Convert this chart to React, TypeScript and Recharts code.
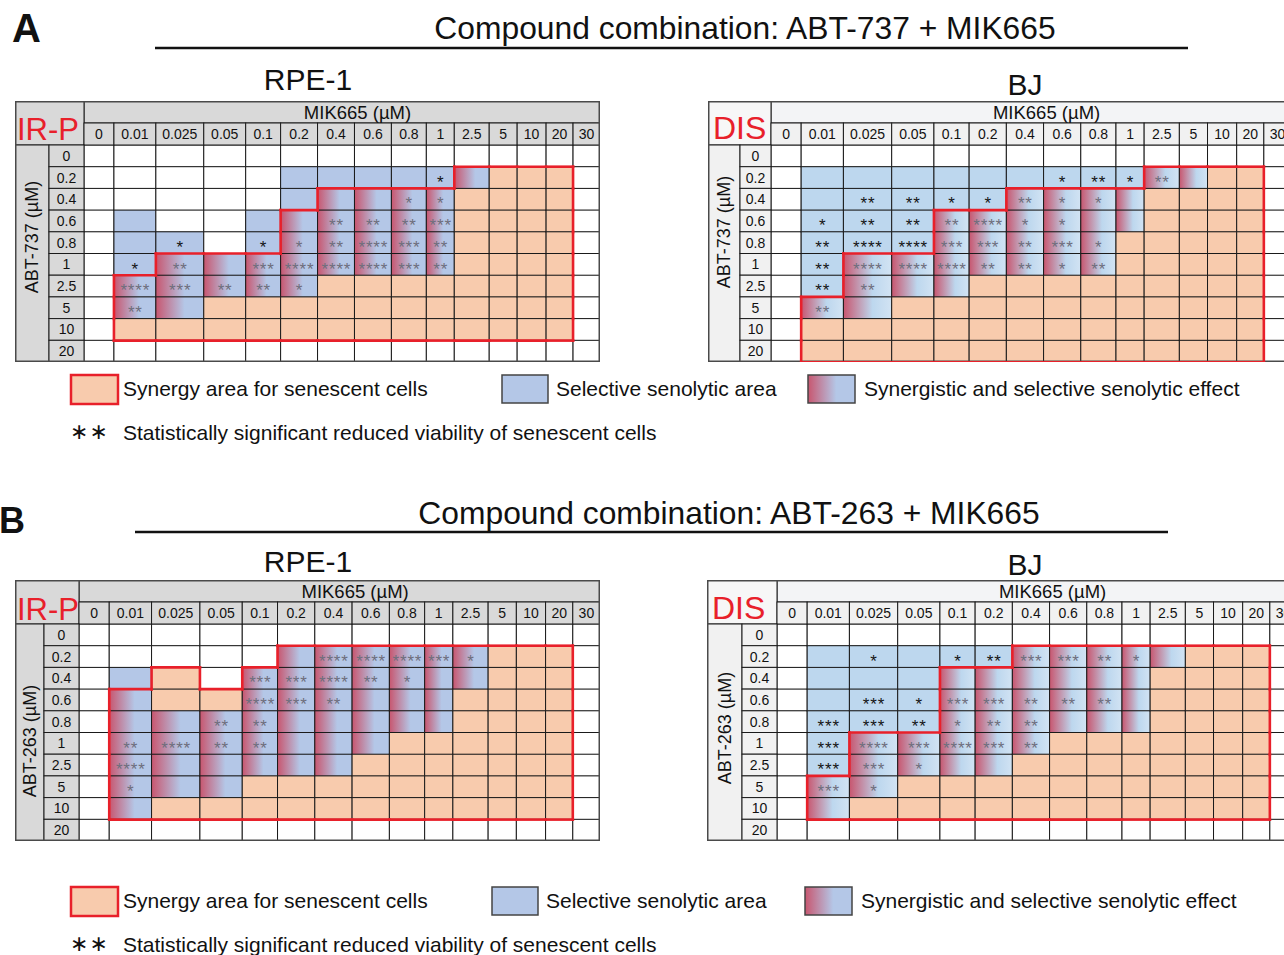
import * as React from 'react'
import { Bar, BarChart, XAxis, YAxis } from 'recharts'

const FONT = '"Liberation Sans", Arial, Helvetica, sans-serif'

// DOSES

const mikDoses = ['0', '0.01', '0.025', '0.05', '0.1', '0.2', '0.4', '0.6', '0.8', '1', '2.5', '5', '10', '20', '30']
const abtDoses = ['0', '0.2', '0.4', '0.6', '0.8', '1', '2.5', '5', '10', '20']

// CELL CLASSES (one string per ABT row, one letter per MIK665 column)
// W = nothing, B = selective senolytic, O = synergy, G = synergy + selective senolytic

const rpeAbt737Cells = [
    'WWWWWWWWWWWWWWW',
    'WWWWWBBBBBGOOOW',
    'WWWWWBGGGGOOOOW',
    'WBWWBGGGGGOOOOW',
    'WBBWBGGGGGOOOOW',
    'WBGGGGGGGGOOOOW',
    'WGGGGGOOOOOOOOW',
    'WGGOOOOOOOOOOOW',
    'WOOOOOOOOOOOOOW',
    'WWWWWWWWWWWWWWW',
]
const bjAbt737Cells = [
    'WWWWWWWWWWWWWWW',
    'WBBBBBBBBBGGOOW',
    'WBBBBBGGGGOOOOW',
    'WBBBGGGGGGOOOOW',
    'WBBBGGGGGOOOOOW',
    'WBGGGGGGGOOOOOW',
    'WBGGGOOOOOOOOOW',
    'WGGOOOOOOOOOOOW',
    'WOOOOOOOOOOOOOW',
    'WOOOOOOOOOOOOOW',
]
const rpeAbt263Cells = [
    'WWWWWWWWWWWWWWW',
    'WWWWWGGGGGGOOOW',
    'WBOWGGGGGGGOOOW',
    'WGOOGGGGGGOOOOW',
    'WGGGGGGGGGOOOOW',
    'WGGGGGGGOOOOOOW',
    'WGGGGGGOOOOOOOW',
    'WGGGOOOOOOOOOOW',
    'WGOOOOOOOOOOOOW',
    'WWWWWWWWWWWWWWW',
]
const bjAbt263Cells = [
    'WWWWWWWWWWWWWWW',
    'WBBBBBGGGGGOOOW',
    'WBBBGGGGGGOOOOW',
    'WBBBGGGGGGOOOOW',
    'WBBBGGGGGGOOOOW',
    'WBGGGGGOOOOOOOW',
    'WBGGGGOOOOOOOOW',
    'WGGOOOOOOOOOOOW',
    'WGOOOOOOOOOOOOW',
    'WWWWWWWWWWWWWWW',
]

// SIGNIFICANCE (number of stars per cell)

const rpeAbt737Stars = [
    '000000000000000',
    '000000000100000',
    '000000001100000',
    '000000222300000',
    '001011243200000',
    '012034443200000',
    '043221000000000',
    '020000000000000',
    '000000000000000',
    '000000000000000',
]
const bjAbt737Stars = [
    '000000000000000',
    '000000012120000',
    '002211211000000',
    '012224110000000',
    '024433231000000',
    '024442212000000',
    '022000000000000',
    '020000000000000',
    '000000000000000',
    '000000000000000',
]
const rpeAbt263Stars = [
    '000000000000000',
    '000000444310000',
    '000033421000000',
    '000043200000000',
    '000220000000000',
    '024220000000000',
    '040000000000000',
    '010000000000000',
    '000000000000000',
    '000000000000000',
]
const bjAbt263Stars = [
    '000000000000000',
    '001012332100000',
    '000000000000000',
    '003133222000000',
    '033212200000000',
    '034343200000000',
    '033100000000000',
    '031000000000000',
    '000000000000000',
    '000000000000000',
]

// LAYOUT

// relative column widths of the printed table
const colWeights = [30, 42, 48, 42, 35, 37, 37, 37, 35, 28, 35, 28, 29, 27, 27]
const totalWeight = colWeights.reduce((a, b) => a + b, 0)
const colCenters = colWeights.map((w, i) => colWeights.slice(0, i).reduce((a, b) => a + b, 0) + w / 2)

const TITLE_H = 22
const HEAD_H = 22
const BODY_H = 217
const TABLE_H = TITLE_H + HEAD_H + BODY_H

const RED = '#e8202a'
const ORANGE = '#f8cbad'

const palettes = {
    irp: { title: '#d9d9d9', head: '#d9d9d9', corner: '#d9d9d9', blue: '#b4c7e7', grad: 'url(#gradIrp)' },
    dis: { title: '#f3f4f6', head: '#f1f1f1', corner: '#f7f7f7', blue: '#bdd7ee', grad: 'url(#gradDis)' },
}

type Panel = {
    left: number, top: number, bandW: number, labelW: number, gridW: number,
    cells: string[], stars: string[], drug: string, corner: string, kind: 'irp' | 'dis',
    sideCy: number, cornerX: number, cornerY: number, cornerSize: number
}

const Grid = (p: Panel) => {
    const pal = palettes[p.kind]
    const width = p.bandW + p.labelW + p.gridW
    const rowH = BODY_H / abtDoses.length
    const gridLeft = p.bandW + p.labelW

    const rows = abtDoses.map(dose => {
        const o: any = { dose }
        colWeights.forEach((w, j) => { o['c' + j] = w })
        return o
    })

    const isSyn = (r: number, j: number) => r >= 0 && r < abtDoses.length && j >= 0 && j < mikDoses.length
        && (p.cells[r][j] === 'O' || p.cells[r][j] === 'G')

    const cellShape = (j: number) => (b: any) => {
        const r = b.index
        const kind = p.cells[r][j]
        const n = Number(p.stars[r][j])
        const fill = kind === 'O' ? ORANGE : kind === 'B' ? pal.blue : kind === 'G' ? pal.grad : '#ffffff'
        const ls = 0.8
        return (
            <g>
                <rect x={b.x} y={b.y} width={b.width} height={b.height} fill={fill} stroke='#1a1a1a' strokeWidth={1}/>
                {n > 0 && (
                    <text x={b.x + b.width / 2 + ls / 2} y={b.y + b.height / 2 + 10} textAnchor='middle' fontSize={17}
                        fontFamily={FONT} letterSpacing={ls} fill={kind === 'B' ? '#151515' : '#6e6e7c'}>
                        {'*'.repeat(n)}
                    </text>
                )}
            </g>
        )
    }

    const redShape = (j: number) => (b: any) => {
        const r = b.index
        if (!isSyn(r, j)) return <g/>
        const { x, y } = b
        const w = b.width
        const h = b.height
        const segs: number[][] = []
        if (!isSyn(r - 1, j)) segs.push([x, y, x + w, y])
        if (!isSyn(r + 1, j)) segs.push([x, y + h, x + w, y + h])
        if (!isSyn(r, j - 1)) segs.push([x, y, x, y + h])
        if (!isSyn(r, j + 1)) segs.push([x + w, y, x + w, y + h])
        return (
            <g>
                {segs.map((s, k) => (
                    <line key={k} x1={s[0]} y1={s[1]} x2={s[2]} y2={s[3]} stroke={RED} strokeWidth={2.6} strokeLinecap='square'/>
                ))}
            </g>
        )
    }

    const HeaderTick = (t: any) => {
        const v = t.payload.value
        const i = colCenters.findIndex(c => Math.abs(c - v) < 0.01)
        const w = colWeights[i] * p.gridW / totalWeight
        return (
            <g>
                <rect x={t.x - w / 2} y={TITLE_H} width={w} height={HEAD_H} fill={pal.head} stroke='#1a1a1a' strokeWidth={1}/>
                <text x={t.x} y={TITLE_H + HEAD_H / 2 + 5} textAnchor='middle' fontSize={14} fontFamily={FONT} fill='#111'>
                    {mikDoses[i]}
                </text>
            </g>
        )
    }

    const RowTick = (t: any) => (
        <g>
            <rect x={p.bandW} y={t.y - rowH / 2} width={p.labelW} height={rowH} fill={pal.head} stroke='#1a1a1a' strokeWidth={1}/>
            <text x={p.bandW + p.labelW / 2} y={t.y + 5} textAnchor='middle' fontSize={14} fontFamily={FONT} fill='#111'>
                {t.payload.value}
            </text>
        </g>
    )

    const layer: React.CSSProperties = { position: 'absolute', left: 0, top: 0 }
    const bodyTop = TITLE_H + HEAD_H

    return (
        <div style={{ position: 'absolute', left: p.left, top: p.top, width, height: TABLE_H }}>
            <svg width={width} height={TABLE_H} style={layer}>
                <rect x={gridLeft} y={0} width={p.gridW} height={TITLE_H} fill={pal.title} stroke='#1a1a1a' strokeWidth={1}/>
                <text x={gridLeft + p.gridW * 0.53} y={17.5} textAnchor='middle' fontSize={18.5} fontFamily={FONT} fill='#111'>MIK665 (µM)</text>
                <rect x={0} y={0} width={gridLeft} height={bodyTop} fill={pal.corner} stroke='#1a1a1a' strokeWidth={1}/>
                <text x={p.cornerX} y={p.cornerY} fontSize={p.cornerSize} fontFamily={FONT} fill={RED}>{p.corner}</text>
                <rect x={0} y={bodyTop} width={p.bandW} height={BODY_H} fill={pal.head} stroke='#1a1a1a' strokeWidth={1}/>
                <text x={p.bandW / 2 + 6} y={p.sideCy} textAnchor='middle' fontSize={18} fontFamily={FONT} fill='#111'
                    transform={`rotate(-90 ${p.bandW / 2 + 6} ${p.sideCy})`}>{p.drug}</text>
            </svg>
            <div style={layer}>
                <BarChart width={width} height={TABLE_H} data={rows} layout='vertical' barCategoryGap={0} barGap={0}
                    margin={{ top: TITLE_H, left: p.bandW, right: 0, bottom: 0 }}>
                    <XAxis type='number' orientation='top' domain={[0, totalWeight]} ticks={colCenters} interval={0}
                        height={HEAD_H} tickLine={false} axisLine={false} tick={<HeaderTick/>}/>
                    <YAxis type='category' dataKey='dose' width={p.labelW} interval={0} tickLine={false} axisLine={false} tick={<RowTick/>}/>
                    {colWeights.map((_, j) => (
                        <Bar key={j} dataKey={'c' + j} stackId='cells' isAnimationActive={false} shape={cellShape(j)}/>
                    ))}
                </BarChart>
            </div>
            <svg width={width} height={TABLE_H} style={layer}>
                <rect x={0.75} y={0.75} width={width - 1.5} height={TABLE_H - 1.5} fill='none' stroke='#4a4a4a' strokeWidth={1.5}/>
            </svg>
            <div style={layer}>
                <BarChart width={width} height={TABLE_H} data={rows} layout='vertical' barCategoryGap={0} barGap={0}
                    margin={{ top: bodyTop, left: gridLeft, right: 0, bottom: 0 }}>
                    <XAxis type='number' domain={[0, totalWeight]} hide/>
                    <YAxis type='category' dataKey='dose' hide/>
                    {colWeights.map((_, j) => (
                        <Bar key={j} dataKey={'c' + j} stackId='edges' isAnimationActive={false} fill='none' shape={redShape(j)}/>
                    ))}
                </BarChart>
            </div>
        </div>
    )
}

const panels: Panel[] = [
    { left: 15, top: 101, bandW: 34, labelW: 35, gridW: 516, cells: rpeAbt737Cells, stars: rpeAbt737Stars, drug: 'ABT-737 (µM)', corner: 'IR-P', kind: 'irp', sideCy: 136, cornerX: 2, cornerY: 39, cornerSize: 31 },
    { left: 708, top: 101, bandW: 32, labelW: 31, gridW: 520, cells: bjAbt737Cells, stars: bjAbt737Stars, drug: 'ABT-737 (µM)', corner: 'DIS', kind: 'dis', sideCy: 131, cornerX: 5, cornerY: 38, cornerSize: 32 },
    { left: 15, top: 580, bandW: 29, labelW: 35, gridW: 521, cells: rpeAbt263Cells, stars: rpeAbt263Stars, drug: 'ABT-263 (µM)', corner: 'IR-P', kind: 'irp', sideCy: 161, cornerX: 2, cornerY: 40, cornerSize: 31 },
    { left: 707, top: 580, bandW: 35, labelW: 35, gridW: 520, cells: bjAbt263Cells, stars: bjAbt263Stars, drug: 'ABT-263 (µM)', corner: 'DIS', kind: 'dis', sideCy: 148, cornerX: 5, cornerY: 39, cornerSize: 32 },
]

const Legend = (props: { top: number, blueX: number, gradX: number }) => {
    const t = props.top
    const txt = { fontSize: 21, fontFamily: FONT, fill: '#111' }
    return (
        <g>
            <rect x={71} y={t} width={47} height={29} fill={ORANGE} stroke={RED} strokeWidth={2.5}/>
            <text x={123} y={t + 21} {...txt}>Synergy area for senescent cells</text>
            <rect x={props.blueX} y={t} width={46} height={28} fill='#b4c7e7' stroke='#444' strokeWidth={1.5}/>
            <text x={props.blueX + 54} y={t + 21} {...txt}>Selective senolytic area</text>
            <rect x={props.gradX} y={t} width={47} height={28} fill='url(#gradIrp)' stroke='#444' strokeWidth={1.5}/>
            <text x={props.gradX + 56} y={t + 21} {...txt}>Synergistic and selective senolytic effect</text>
            <text x={70} y={t + 64} fontSize={22} fontFamily='"DejaVu Sans", sans-serif' letterSpacing={1} fill='#111'>∗∗</text>
            <text x={123} y={t + 65} {...txt}>Statistically significant reduced viability of senescent cells</text>
        </g>
    )
}

export default function App() {
    const big = { fontFamily: FONT, fill: '#111' }
    return (
        <div style={{ position: 'fixed', left: 0, top: 0, width: 1284, height: 955, overflow: 'hidden', background: '#fff' }}>
            <svg width={1284} height={955} style={{ position: 'absolute', left: 0, top: 0 }}>
                <defs>
                    <linearGradient id='gradIrp' x1='0' y1='0' x2='1' y2='0'>
                        <stop offset='0' stopColor='#c8566f'/>
                        <stop offset='0.6' stopColor='#b4c7e7'/>
                        <stop offset='1' stopColor='#b4c7e7'/>
                    </linearGradient>
                    <linearGradient id='gradDis' x1='0' y1='0' x2='1' y2='0'>
                        <stop offset='0' stopColor='#c8566f'/>
                        <stop offset='0.6' stopColor='#bdd7ee'/>
                        <stop offset='1' stopColor='#d2e3f3'/>
                    </linearGradient>
                </defs>

                <text x={12} y={42} fontSize={40} fontWeight='bold' {...big}>A</text>
                <text x={745} y={39} fontSize={31.8} textAnchor='middle' {...big}>Compound combination: ABT-737 + MIK665</text>
                <line x1={155} x2={1188} y1={48} y2={48} stroke='#111' strokeWidth={2.5}/>
                <text x={308} y={90} fontSize={30} textAnchor='middle' {...big}>RPE-1</text>
                <text x={1025} y={95} fontSize={30} textAnchor='middle' {...big}>BJ</text>
                <Legend top={375} blueX={502} gradX={808}/>

                <text x={-1} y={533} fontSize={36} fontWeight='bold' {...big}>B</text>
                <text x={729} y={524} fontSize={31.8} textAnchor='middle' {...big}>Compound combination: ABT-263 + MIK665</text>
                <line x1={135} x2={1168} y1={532} y2={532} stroke='#111' strokeWidth={2.5}/>
                <text x={308} y={572} fontSize={30} textAnchor='middle' {...big}>RPE-1</text>
                <text x={1025} y={575} fontSize={30} textAnchor='middle' {...big}>BJ</text>
                <Legend top={887} blueX={492} gradX={805}/>
            </svg>
            {panels.map((p, i) => <Grid key={i} {...p}/>)}
        </div>
    )
}
